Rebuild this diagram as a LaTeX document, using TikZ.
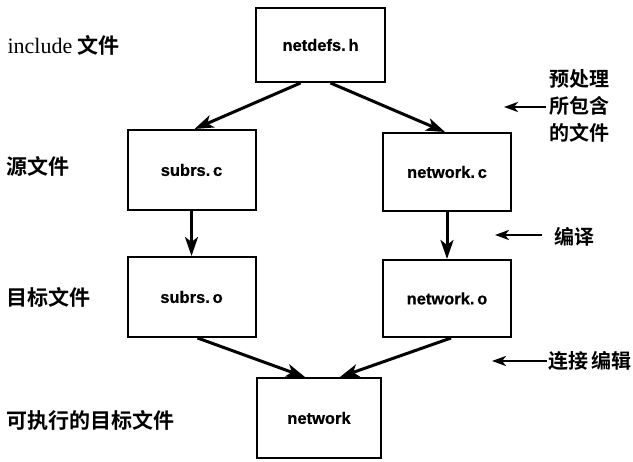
\documentclass[tikz,border=0pt]{standalone}
\usepackage{fontspec}
\setmainfont{Liberation Sans}[FakeBold=0.6]
\newfontfamily\cjk{Noto Sans CJK SC}[BoldFont={Noto Sans CJK SC Bold}]
\newfontfamily\serifl{Liberation Serif}
\usetikzlibrary{arrows.meta}
\begin{document}
\begin{tikzpicture}[x=1pt,y=-1pt,
  filebox/.style={draw,line width=2pt,minimum width=128pt,minimum height=78pt,
    inner sep=0pt,font=\bfseries\fontsize{16.5}{18}\selectfont},
  flow/.style={line width=3pt,-{Stealth[length=19pt,width=13pt,inset=5pt]}},
  note/.style={line width=2.4pt,-{Stealth[length=14pt,width=10pt,inset=4pt]}},
  rowlabel/.style={anchor=west,font=\cjk\bfseries\fontsize{21}{23}\selectfont},
  sidelabel/.style={anchor=west,align=left,inner sep=2pt,font=\cjk\bfseries\fontsize{20}{27}\selectfont}]
\useasboundingbox (0,0) rectangle (633,462);
% file boxes
\node[filebox,minimum width=129pt,minimum height=74pt] (h) at (320.5,45) {netdefs.\,h};
\node[filebox,minimum height=80pt] (sc) at (191.5,170) {subrs.\,c};
\node[filebox,minimum height=78pt] (nc) at (447,172) {network.\,c};
\node[filebox,minimum height=80pt] (so) at (191.5,297) {subrs.\,o};
\node[filebox,minimum height=77pt] (no) at (447,298.5) {network.\,o};
\node[filebox,minimum width=124pt,minimum height=80pt] (n) at (319,418) {network};
% dependency arrows
\draw[flow] ([xshift=-20pt]h.south) -- ([xshift=3pt]sc.north);
\draw[flow] ([xshift=10pt]h.south) -- ([xshift=-2pt]nc.north);
\draw[flow] (sc.south) -- (so.north);
\draw[flow] (nc.south) -- (no.north);
\draw[flow] ([xshift=6pt]so.south) -- ([xshift=-14pt]n.north);
\draw[flow] ([xshift=4pt]no.south) -- ([xshift=21pt]n.north);
% row labels
\node[rowlabel] (l1) at (4,45) {{\serifl\mdseries\fontsize{22}{24}\selectfont include}\ 文件};
\node[rowlabel] (l2) at (3,166) {源文件};
\node[rowlabel] (l3) at (3,297) {目标文件};
\node[rowlabel] (l4) at (3,420) {可执行的目标文件};
% stage labels
\node[sidelabel] (s1) at (547,106) {预处理\\所包含\\的文件};
\node[sidelabel] (s2) at (552,237) {编译};
\node[sidelabel] (s3) at (546,361) {连接\,编辑};
\coordinate (t1) at (504,107);
\coordinate (t2) at (495,235);
\coordinate (t3) at (492,361);
\draw[note] ([xshift=-1pt]s1.west |- t1) -- (t1);
\draw[note] (542,235) -- (t2);
\draw[note] ([xshift=1pt]s3.west |- t3) -- (t3);
\end{tikzpicture}
\end{document}
